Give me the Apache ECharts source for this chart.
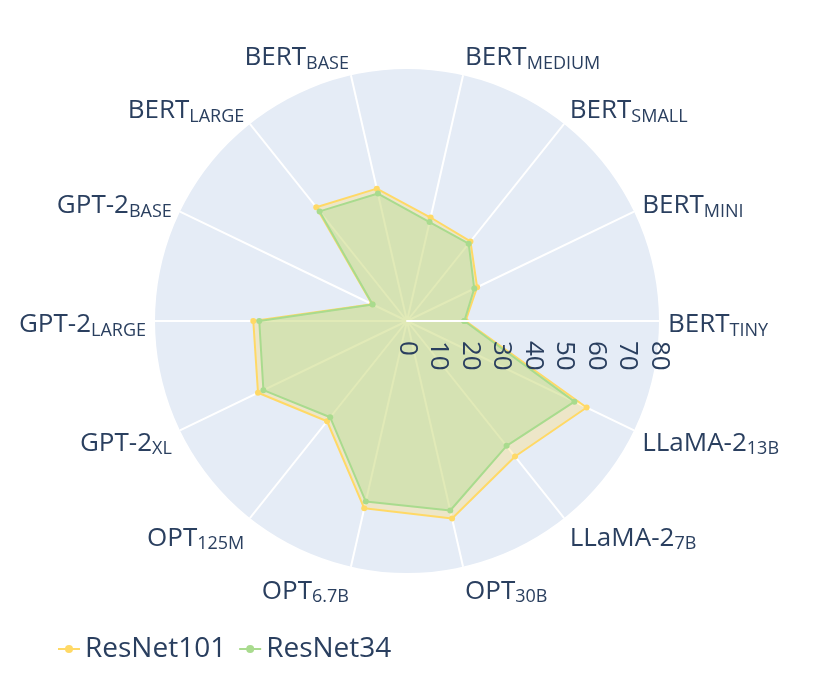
<!DOCTYPE html>
<html>
<head>
    <meta charset="utf-8" />
    <title>ResNet radar</title>
    <script src="https://cdn.jsdelivr.net/npm/echarts@6/dist/echarts.min.js"></script>
    <style type="text/css">
        html, body { margin: 0; width: 100%; height: 100%; background: #fff; }
        #main { width: 814px; height: 678px; }
    </style>
</head>
<body>
    <div id="main"></div>
    <script>
        // category names: main part + subscript part
        var catMain = ['BERT', 'BERT', 'BERT', 'BERT', 'BERT', 'BERT', 'GPT-2', 'GPT-2', 'GPT-2', 'OPT', 'OPT', 'OPT', 'LLaMA-2', 'LLaMA-2'];
        var catSub = ['TINY', 'MINI', 'SMALL', 'MEDIUM', 'BASE', 'LARGE', 'BASE', 'LARGE', 'XL', '125M', '6.7B', '30B', '7B', '13B'];
        var resnet101 = [18.6, 24.7, 32.3, 33.7, 43.1, 46.2, 12.3, 48.8, 52.5, 40.7, 61.0, 64.3, 55.0, 63.3];
        var resnet34 = [18.2, 23.7, 31.4, 32.2, 41.5, 44.5, 12.1, 46.9, 50.6, 39.1, 58.8, 61.7, 50.7, 59.0];
        var radialTicks = [0, 10, 20, 30, 40, 50, 60, 70, 80];

        var txt = '#2a3f5f';
        var font = '"Open Sans", sans-serif';
        var step = 360 / catMain.length;
        var rMax = radialTicks[radialTicks.length - 1];

        // [radius, angle]; first point repeated at 360 so the shape closes
        function toPolar(vals) {
            var out = vals.map(function (v, i) { return [v, i * step]; });
            out.push([vals[0], 360]);
            return out;
        }

        // category labels sit just outside the rim, aligned like plotly does it
        var labelData = catMain.map(function (m, i) {
            var a = i * step * Math.PI / 180;
            var c = Math.cos(a), s = Math.sin(a);
            return {
                value: [rMax, i * step],
                label: {
                    formatter: '{m|' + m + '}{s|' + catSub[i] + '}',
                    align: Math.abs(c) < 0.1 ? 'center' : (c > 0 ? 'left' : 'right'),
                    offset: [9 * c, -9 * s + 3.5 - 12.5 * s]
                }
            };
        });

        var myChart = echarts.init(document.getElementById('main'));
        var option = {
            backgroundColor: '#fff',
            textStyle: { fontFamily: font },
            legend: {
                left: 52,
                top: 630,
                itemWidth: 22,
                itemHeight: 10,
                itemGap: 12,
                textStyle: { color: txt, fontSize: 28, fontFamily: font },
                data: ['ResNet101', 'ResNet34']
            },
            polar: [
                { center: [407, 321], radius: 252 },
                { center: [407, 321], radius: 252 }
            ],
            angleAxis: [
                {
                    polarIndex: 0,
                    type: 'value',
                    min: 0,
                    max: 360,
                    interval: step,
                    startAngle: 0,
                    clockwise: false,
                    axisLine: { show: false },
                    axisTick: { show: false },
                    axisLabel: { show: false },
                    splitLine: { show: true, lineStyle: { color: '#fff', width: 2 } }
                },
                {
                    polarIndex: 1,
                    type: 'value',
                    min: 0,
                    max: 360,
                    startAngle: 0,
                    clockwise: false,
                    show: false
                }
            ],
            radiusAxis: [
                {
                    polarIndex: 0,
                    type: 'value',
                    min: radialTicks[0],
                    max: rMax,
                    interval: 10,
                    axisLine: { show: false },
                    axisTick: { show: false },
                    axisLabel: { show: false },
                    splitLine: { show: true, lineStyle: { color: '#fff', width: 1 } },
                    splitArea: { show: true, areaStyle: { color: ['#E5ECF6'] } }
                },
                {
                    // radial axis line + tick labels drawn above the traces
                    polarIndex: 1,
                    type: 'value',
                    min: radialTicks[0],
                    max: rMax,
                    interval: 10,
                    z: 10,
                    axisLine: { show: true, lineStyle: { color: '#fff', width: 2 } },
                    axisTick: { show: false },
                    splitLine: { show: false },
                    axisLabel: {
                        rotate: -90,
                        margin: -20,
                        align: 'left',
                        verticalAlign: 'middle',
                        padding: [7, 0, 0, 0],
                        color: txt,
                        fontSize: 26,
                        fontFamily: font
                    }
                }
            ],
            series: [
                {
                    name: 'ResNet101',
                    type: 'line',
                    coordinateSystem: 'polar',
                    polarIndex: 0,
                    data: toPolar(resnet101),
                    symbol: 'circle',
                    symbolSize: 6,
                    itemStyle: { color: '#FFD966' },
                    lineStyle: { color: '#FFD966', width: 2 },
                    areaStyle: { color: 'rgba(255,217,102,0.45)' },
                    z: 2
                },
                {
                    name: 'ResNet34',
                    type: 'line',
                    coordinateSystem: 'polar',
                    polarIndex: 0,
                    data: toPolar(resnet34),
                    symbol: 'circle',
                    symbolSize: 6,
                    itemStyle: { color: '#A9DB8E' },
                    lineStyle: { color: '#A9DB8E', width: 2 },
                    areaStyle: { color: 'rgba(169,219,142,0.5)' },
                    z: 3
                },
                {
                    name: 'categories',
                    type: 'scatter',
                    coordinateSystem: 'polar',
                    polarIndex: 0,
                    symbolSize: 1,
                    itemStyle: { color: 'rgba(0,0,0,0)', opacity: 1 },
                    silent: true,
                    z: 4,
                    label: {
                        show: true,
                        position: 'inside',
                        verticalAlign: 'middle',
                        color: txt,
                        opacity: 1,
                        rich: {
                            m: { fontSize: 26, lineHeight: 30, color: txt, fontFamily: font },
                            s: { fontSize: 18, lineHeight: 16, verticalAlign: 'bottom', color: txt, fontFamily: font }
                        }
                    },
                    data: labelData
                }
            ]
        };
        myChart.setOption(option);
    </script>
</body>
</html>
